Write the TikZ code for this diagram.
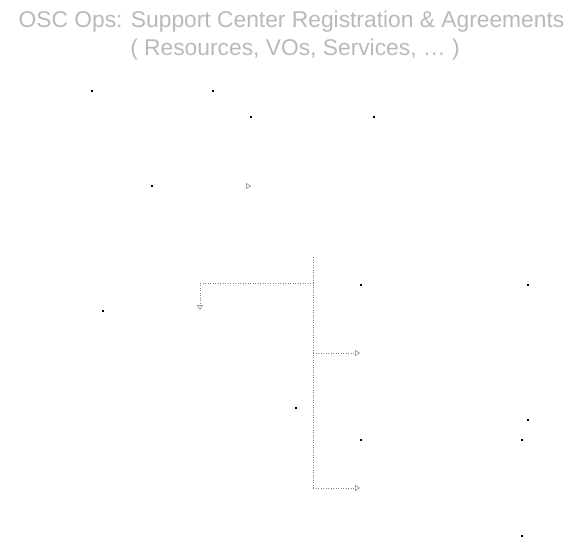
\documentclass[tikz,border=0pt]{standalone}
\usepackage{fontspec}
\setmainfont{Liberation Sans}
\usetikzlibrary{arrows,arrows.meta,positioning}

\begin{document}
\begin{tikzpicture}[x=1pt,y=-1pt,line width=0.5pt,
    heading/.style={text=gray!55,font=\fontsize{22.8}{27}\selectfont},
    flow/.style={gray,dotted,-{Triangle[open,length=5pt,width=6pt]}},
    ghost/.style={white,-{Triangle[open,length=5pt,width=6pt,color=gray]}},
    pin/.style={rectangle,fill=black,inner sep=0pt,minimum size=1.2pt}]
  \useasboundingbox (0,0) rectangle (583,554);

  % title
  \node[heading] (title)    at (291.5,22) {OSC Ops: Support Center Registration \& Agreements};
  \node[heading] (subtitle) at (295,50)   {( Resources, VOs, Services, \ldots\ )};

  % corner marks
  \foreach \x/\y [count=\i] in {92/91,213/91,251/117,374/117,152/186,103/311,296/408,
                                361/285,528/285,361/440,522/440,528/420,522/536}
    \node[pin] (p\i) at (\x,\y) {};

  % connector points
  \coordinate (top)    at (313,257);
  \coordinate (split)  at (313,283);
  \coordinate (down)   at (200,310);
  \coordinate (mid)    at (313,353);
  \coordinate (right1) at (360,353);
  \coordinate (bottom) at (313,488);
  \coordinate (right2) at (360,488);
  \coordinate (tipA)   at (251,186);

  \draw[gray,dotted] (top) -- (bottom);
  \path (split)  edge[flow,to path={-| (\tikztotarget)}] (down)
        (mid)    edge[flow] (right1)
        (bottom) edge[flow] (right2)
        (p5)     edge[ghost] (tipA);
\end{tikzpicture}
\end{document}
